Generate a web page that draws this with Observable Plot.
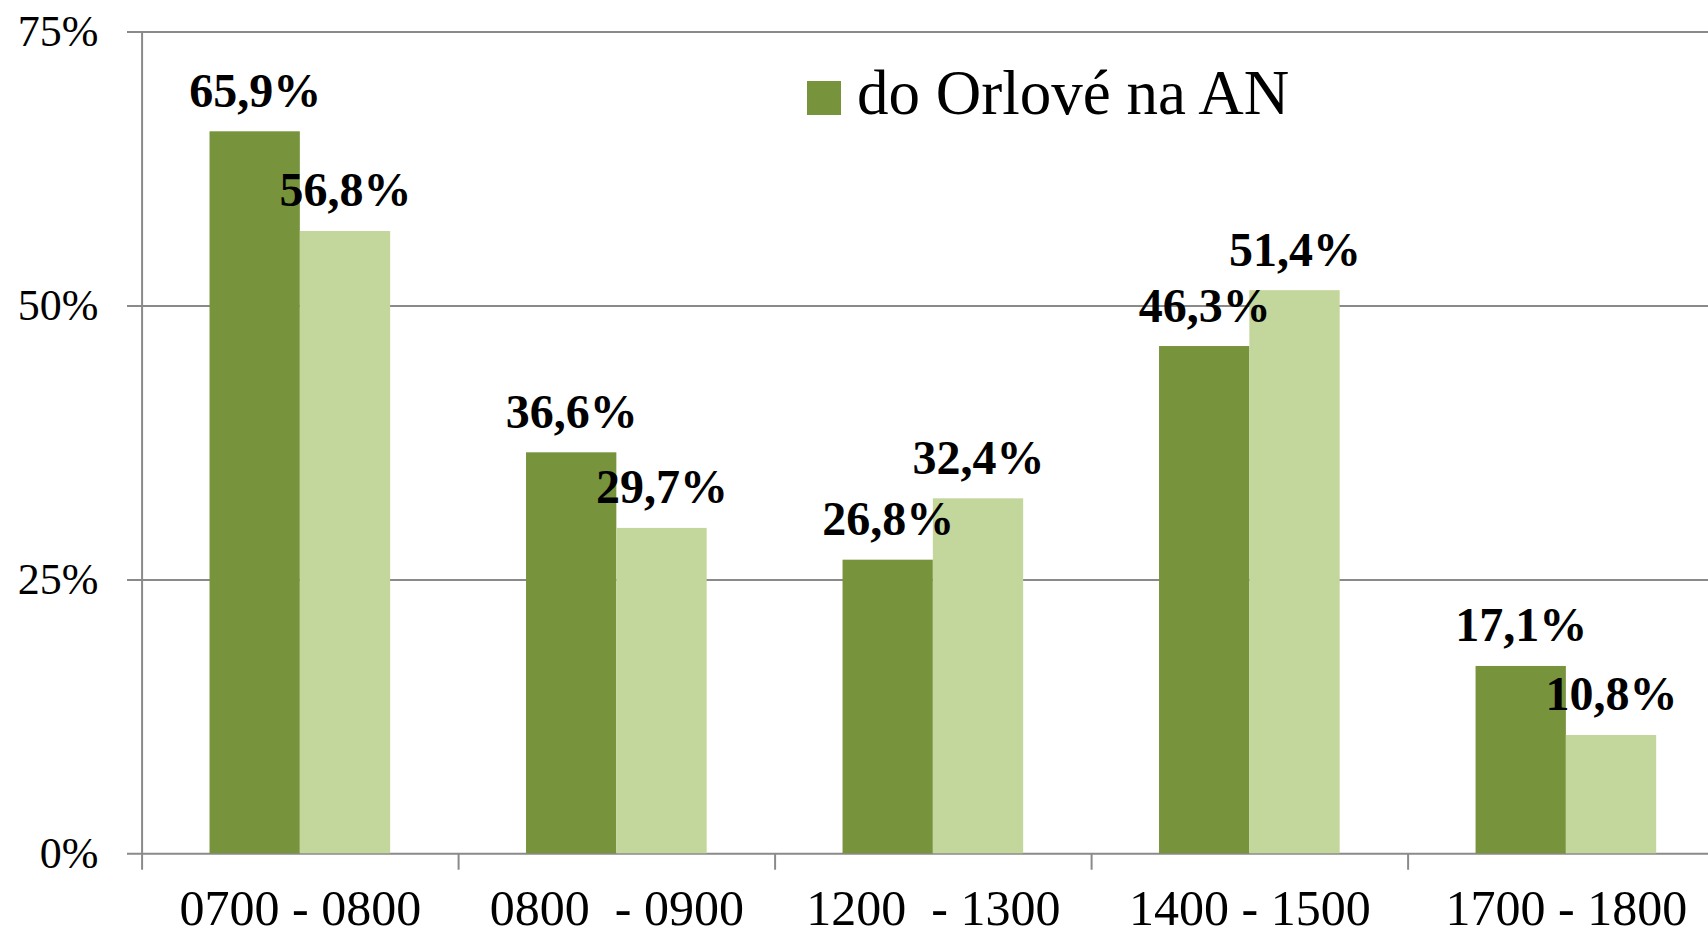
<!DOCTYPE html>
<html>
<head>
<meta charset="utf-8">
<script src="https://cdn.jsdelivr.net/npm/d3@7"></script>
<script src="https://cdn.jsdelivr.net/npm/@observablehq/plot@0.6"></script>
<style>
  html, body { margin: 0; padding: 0; background: #fff; }
  #wrap { position: relative; width: 1708px; height: 935px; }
  svg text { white-space: pre; }
  #legend-swatch { position: absolute; left: 807px; top: 81px; width: 34px; height: 34px; background: #77933C; }
  #legend-text { position: absolute; left: 857px; top: 62px; font: 63px/63px "Liberation Serif", serif; color: #000; white-space: nowrap; }
</style>
</head>
<body>
<div id="wrap">
  <div id="chart"></div>
  <div id="legend-swatch"></div>
  <div id="legend-text">do Orlové na AN</div>
</div>
<script>
const categories = ["0700 - 0800", "0800  - 0900", "1200  - 1300", "1400 - 1500", "1700 - 1800"];
const seriesDo = [65.9, 36.6, 26.8, 46.3, 17.1];
const seriesZ  = [56.8, 29.7, 32.4, 51.4, 10.8];
const yTicks = [0, 25, 50, 75];

const darkColor = "#77933C";
const lightColor = "#C3D69B";
const gridColor = "#8A8A8A";

const width = 1708, height = 935;
const xRange = [141.6, 1724.1];
const paddingInner = 0.4293, paddingOuter = 0.2146;
const step = (xRange[1] - xRange[0]) / (categories.length - paddingInner + 2 * paddingOuter);
const bw = step * (1 - paddingInner);

const dataDo = categories.map((c, i) => ({cat: c, v: seriesDo[i]}));
const dataZ = categories.map((c, i) => ({cat: c, v: seriesZ[i]}));
const fmt = v => v.toFixed(1).replace(".", ",") + "%";

const chart = Plot.plot({
  width, height,
  marginTop: 31.6,
  marginBottom: 81.7,
  marginLeft: 127,
  marginRight: 0,
  style: {fontFamily: "'Liberation Serif', serif", color: "#000", background: "#fff"},
  x: {type: "band", domain: categories, range: xRange, paddingInner, paddingOuter, round: false},
  y: {domain: [0, 75]},
  marks: [
    Plot.ruleY(yTicks, {stroke: gridColor, strokeWidth: 2}),
    Plot.barY(dataDo, {x: "cat", y: "v", fill: darkColor, insetLeft: 0, insetRight: bw / 2}),
    Plot.barY(dataZ, {x: "cat", y: "v", fill: lightColor, insetLeft: bw / 2, insetRight: 0}),
    Plot.ruleX(categories, {x: d => d, dx: -step / 2, y1: -1.5, y2: 0, stroke: gridColor, strokeWidth: 2}),
    Plot.ruleX([categories[0]], {x: d => d, dx: -step / 2, y1: 0, y2: 75, stroke: gridColor, strokeWidth: 2}),
    Plot.axisY({ticks: yTicks, tickSize: 0, tickPadding: 29, tickFormat: d => d + "%", fontSize: 44, anchor: "left", label: null}),
    Plot.axisX({tickSize: 0, tickPadding: 36, fontSize: 50, label: null}),
    Plot.text(dataDo, {x: "cat", y: "v", text: d => fmt(d.v), dx: -bw / 4, dy: -25, lineAnchor: "bottom", fontSize: 48, fontWeight: "bold", fill: "#000"}),
    Plot.text(dataZ, {x: "cat", y: "v", text: d => fmt(d.v), dx: bw / 4, dy: -25, lineAnchor: "bottom", fontSize: 48, fontWeight: "bold", fill: "#000"})
  ]
});
document.getElementById("chart").appendChild(chart);
</script>
</body>
</html>
